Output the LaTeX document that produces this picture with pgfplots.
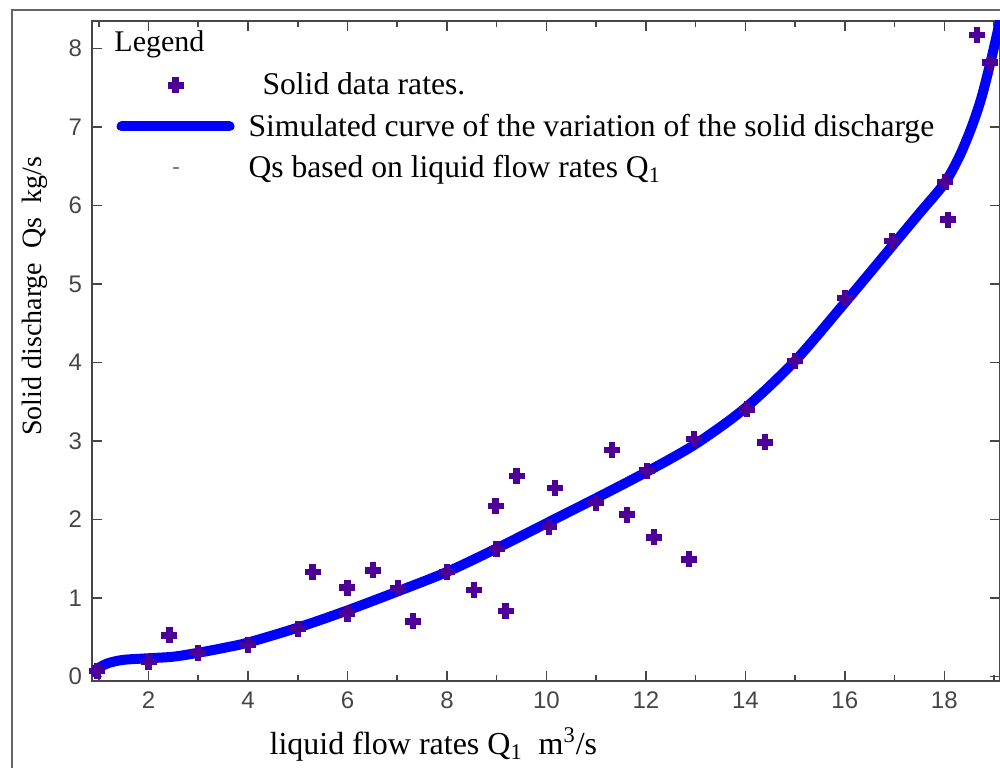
\documentclass[border=0pt]{standalone}
\usepackage{fontspec}
\setmainfont{Liberation Serif}
\newfontfamily\tickfont{Liberation Sans}
\usepackage{pgfplots}
\pgfplotsset{compat=1.18}

\definecolor{ptpurple}{RGB}{78,0,150}
\definecolor{curveblue}{RGB}{0,0,255}
\definecolor{axgray}{RGB}{70,70,70}

\pgfplotsset{
  legimg/.style={legend image code/.code={
    \draw[mark repeat=2,mark phase=2,##1] plot coordinates {(0pt,0pt) (27pt,0pt) (54pt,0pt)};}},
}

\begin{document}
\begin{tikzpicture}
\useasboundingbox (-46pt,-43pt) rectangle (454pt,340.5pt);
% outer frame (right and bottom cut off)
\draw[gray!80!black, line width=1pt] (-40pt,-60pt) -- (-40pt,335.25pt) -- (470pt,335.25pt);

\begin{axis}[
  scale only axis,
  width=454pt, height=330pt,
  xmin=0.863, xmax=19.12,
  ymin=-0.06, ymax=8.35,
  xtick={2,4,...,18},
  minor xtick={1,3,...,19},
  ytick={0,1,...,8},
  tick align=inside,
  major tick length=5pt,
  minor tick length=3pt,
  every tick/.style={axgray, line width=0.8pt},
  axis line style={axgray, line width=1pt},
  /pgf/number format/assume math mode=true,
  ticklabel style={font=\tickfont\fontsize{12}{14}\selectfont, text=axgray},
  xticklabel style={yshift=-2pt},
  yticklabel style={xshift=-1.5pt},
  xlabel={\fontsize{16}{18}\selectfont liquid flow rates Q\textsubscript{1}\ \ m\textsuperscript{3}/s},
  xlabel style={at={(axis description cs:0.376,-0.096)}, anchor=center},
  ylabel={\fontsize{14}{16}\selectfont Solid discharge\ \ Qs\ \ kg/s},
  ylabel style={at={(axis description cs:-0.0633,0.583)}, anchor=center},
  legend style={at={(axis description cs:0.020,0.934)}, anchor=north west,
    draw=none, fill=none, font=\fontsize{15.8}{17}\selectfont,
    row sep=4pt, column sep=5pt, legend cell align=left},
  legimg,
]

\addplot[only marks, mark=+, mark size=4pt, ptpurple, line width=3.2pt, legimg]
coordinates {
  (0.97,0.07) (2.0,0.18) (2.42,0.52) (3.0,0.30) (4.0,0.40) (5.0,0.60)
  (5.30,1.33) (6.0,1.13) (6.0,0.80) (6.51,1.35) (7.02,1.12) (7.32,0.70)
  (8.0,1.33) (8.54,1.10) (8.98,2.17) (9.0,1.62) (9.18,0.83) (9.40,2.55)
  (10.05,1.90) (10.17,2.40) (11.0,2.21) (11.32,2.88) (11.62,2.06)
  (12.02,2.62) (12.16,1.77) (12.87,1.49) (12.97,3.02) (14.03,3.40)
  (14.40,2.98) (15.0,4.02) (16.0,4.82) (16.95,5.55) (18.02,6.30)
  (18.08,5.82) (18.66,8.17) (18.92,7.82)
};
\addlegendentry{\hspace{7pt}Solid data rates.}

\addplot[curveblue, line width=5pt, smooth, line cap=round]
coordinates {
  (0.87,0.06) (1.0,0.11) (1.2,0.17) (1.5,0.21) (2.0,0.23) (2.5,0.25)
  (3.0,0.30) (3.5,0.36) (4.0,0.43) (5.0,0.62) (6.0,0.84) (7.0,1.08)
  (8.0,1.33) (9.0,1.63) (10.0,1.95) (11.0,2.27) (12.0,2.60) (13.0,2.96)
  (14.0,3.42) (15.0,4.02) (16.0,4.76) (17.0,5.52) (17.5,5.90) (18.0,6.28)
  (18.3,6.62) (18.55,7.00) (18.75,7.38) (18.95,7.88) (19.12,8.35)
};
\addlegendentry{Simulated curve of the variation of the solid discharge}

\addlegendimage{only marks, mark=-, mark size=1.5pt, gray, line width=0.8pt}
\addlegendentry{Qs based on liquid flow rates Q\textsubscript{1}}

\node[anchor=west, font=\fontsize{15}{17}\selectfont]
  at (axis description cs:0.017,0.964) {Legend};
\end{axis}
\end{tikzpicture}
\end{document}
